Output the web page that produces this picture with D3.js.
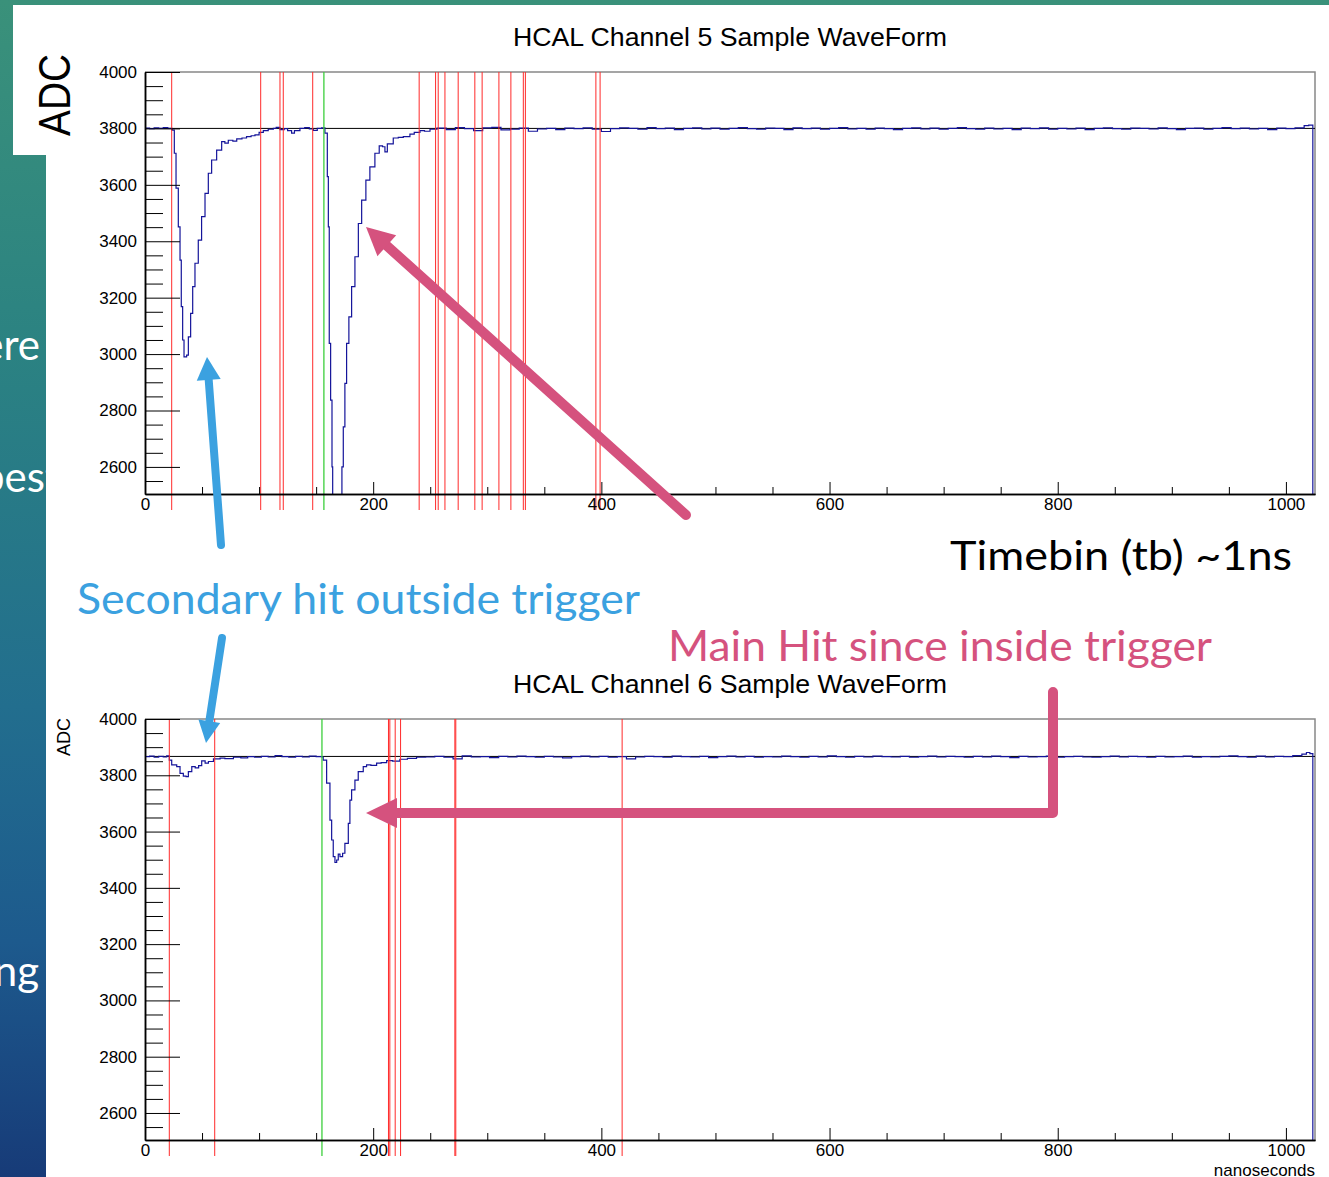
<!DOCTYPE html>
<html>
<head>
<meta charset="utf-8">
<script src="https://cdn.jsdelivr.net/npm/d3@7"></script>
<style>
  body { margin: 0; background: #fff; }
  svg { display: block; }
  .axis text { font-family: "Liberation Sans", Arial, sans-serif; font-size: 17px; fill: #000; }
  .axis line, .axis path { stroke: #000; }
</style>
</head>
<body>
<svg id="slide" width="1329" height="1177"></svg>
<script>
// ---- data ----
var yMajor = [2600, 2800, 3000, 3200, 3400, 3600, 3800, 4000];
var xMajor = [0, 200, 400, 600, 800, 1000];

// channel 5: pulse region as [ns, adc]
var ch5Head = [[0,3801],[4,3799],[8,3802],[12,3800],[16,3803],[20,3800],[23.7,3794],[25.7,3712],[27.2,3588],
  [29.2,3451],[30.7,3333],[31.8,3168],[33,3050],[34.2,2990],[36.5,2996],[38,3061],[40,3144],[41.8,3239],
  [43.8,3322],[46.7,3404],[49.6,3487],[52.6,3570],[55.5,3641],[58.4,3688],[62.8,3723],[67.2,3753],[70,3748],
  [73,3758],[77,3755],[80.4,3763],[85,3766],[89,3771],[93,3774],[96.4,3777],[100,3786],[103.7,3792],[108,3797],
  [112.5,3800],[115,3804],[118.3,3796],[122,3799],[125,3792],[128.5,3783],[131,3792],[135.8,3800],[140,3803],
  [144,3798],[147.5,3793],[151,3800],[154.8,3802],[157.7,3783],[159.8,3629],[160.7,3451],[161.5,3038],
  [162.7,2837],[163.9,2600],[164.5,2300],[172.6,2600],[173.8,2742],[175.2,2896],[176.7,3038],[178.7,3132],
  [181.1,3239],[184,3345],[187,3463],[189.9,3546],[193.6,3617],[197.1,3664],[201.5,3712],[205.3,3738],
  [208.2,3735],[210.3,3717],[212.4,3745],[217.6,3766],[222,3768],[226.4,3771],[232.2,3780],[236,3786],
  [241,3792],[245,3790],[249.8,3797]];
// channel 5: flat tail, one value every 8 ns from 256 ns
var ch5TailStart = 256;
var ch5Tail = [3801,3796,3803,3799,3792,3802,3804,3795,3797,3801,3790,3798,3800,3796,3801,3799,3802,3797,
  3789,3799,3802,3800,3797,3803,3799,3801,3796,3800,3802,3798,3801,3797,3800,3803,3799,3797,3801,3800,3796,
  3802,3799,3801,3797,3800,3803,3798,3800,3797,3801,3799,3796,3800,3802,3798,3801,3797,3800,3803,3799,3797,
  3801,3798,3800,3796,3801,3799,3802,3797,3800,3798,3801,3796,3800,3802,3799,3797,3801,3800,3798,3802,3799,
  3796,3800,3801,3797,3800,3803,3799,3801,3798,3800,3796,3801,3799,3802,3810];
var ch5End = [[1020,3812],[1023.6,0],[1026,0]];
var ch5Pedestal = 3800;
var ch5Red = [23.4, 101.4, 118.3, 121.2, 147, 240.3, 254.7, 257, 262.9, 274.5, 289.1, 295.5, 310.2,
  320.7, 331.6, 333.4, 395.2, 398.9];
var ch5Green = [156.8];

// channel 6
var ch6Head = [[0,3866],[4,3868],[8,3864],[12,3867],[16,3865],[19,3869],[21.3,3854],[23.4,3837],[27.8,3831],
  [30.7,3807],[33.6,3797],[36,3795],[38,3813],[41,3831],[44,3826],[47,3834],[49.7,3851],[52.7,3843],
  [55.6,3849],[60,3858],[65.8,3861],[70,3859],[77.5,3864],[84,3862],[90,3866],[96,3864],[102,3867],
  [108,3865],[114,3870],[120,3866],[126,3864],[132,3867],[138,3865],[144,3868],[150,3866],[155.1,3865],
  [156.2,3854],[159.2,3772],[162.1,3641],[163.6,3570],[165,3511],[166.5,3490],[168,3499],[169.4,3520],
  [170.9,3511],[173.2,3523],[175.2,3558],[178.2,3629],[179.6,3712],[181.1,3748],[184,3783],[186.9,3813],
  [191.3,3831],[194.2,3837],[198,3835],[203,3843],[207,3845],[211.8,3852],[217,3850],[223.4,3857],
  [230,3860],[238,3864]];
var ch6TailStart = 246;
var ch6Tail = [3865,3867,3864,3858,3869,3865,3866,3863,3867,3865,3868,3866,3864,3867,3865,3862,3866,3868,
  3865,3867,3864,3866,3858,3865,3867,3866,3864,3868,3866,3865,3867,3863,3866,3868,3865,3867,3864,3866,3865,
  3868,3866,3864,3867,3865,3869,3866,3864,3867,3865,3868,3866,3865,3867,3864,3866,3868,3865,3867,3866,3864,
  3867,3865,3868,3866,3863,3867,3865,3866,3868,3864,3866,3867,3865,3864,3866,3868,3865,3867,3866,3864,3867,
  3865,3866,3868,3864,3866,3865,3867,3869,3866,3864,3868,3865,3867,3866,3870,3875];
var ch6End = [[1018,3881],[1021,3877],[1023.6,0],[1026,0]];
var ch6Pedestal = 3867;
var ch6Red = [21.3, 61.1, 213.4, 214.6, 219.3, 224, 271.6, 272.4, 418.2];
var ch6Green = [155.1];

// ---- drawing ----
var svg = d3.select('#slide');
var W = 1329, H = 1177;

var defs = svg.append('defs');
var grad = defs.append('linearGradient').attr('id', 'bg').attr('x1', 0).attr('y1', 0).attr('x2', 0).attr('y2', 1);
[['0%', '#3a917a'], ['30%', '#2b8282'], ['60%', '#226e8e'], ['80%', '#1d5a8d'], ['100%', '#173b78']].forEach(function(s){
  grad.append('stop').attr('offset', s[0]).attr('stop-color', s[1]);
});
svg.append('rect').attr('width', W).attr('height', H).attr('fill', 'url(#bg)');

// slide bullet text peeking out on the left
var bullet = svg.append('g').attr('font-family', 'Lato, sans-serif').attr('font-size', 42).attr('fill', '#fff');
bullet.append('text').attr('x', 40).attr('y', 360).attr('text-anchor', 'end').text('where');
bullet.append('text').attr('x', 60).attr('y', 492).attr('text-anchor', 'end').text('best');
bullet.append('text').attr('x', 39).attr('y', 986).attr('text-anchor', 'end').text('timing');

// white image area
svg.append('rect').attr('x', 46).attr('y', 5).attr('width', W - 46).attr('height', H - 5).attr('fill', '#fff');
svg.append('rect').attr('x', 13).attr('y', 5).attr('width', 40).attr('height', 150).attr('fill', '#fff');

var x = d3.scaleLinear().domain([0, 1025.5]).range([145, 1315]);
var fmt = d3.format('d');

function panel(top, bottom, title, series, pedestal, reds, greens, id){
  var y = d3.scaleLinear().domain([2504, 4000]).range([bottom, top]);
  var g = svg.append('g');

  defs.append('clipPath').attr('id', id).append('rect')
    .attr('x', 145).attr('y', top).attr('width', 1170).attr('height', bottom - top);

  // frame
  g.append('path').attr('d', 'M145,' + top + 'H1315V' + bottom).attr('fill', 'none')
    .attr('stroke', '#888').attr('stroke-width', 1.5);

  // pedestal line and waveform
  var clip = g.append('g').attr('clip-path', 'url(#' + id + ')');
  clip.append('line').attr('x1', 145).attr('x2', 1315).attr('y1', y(pedestal)).attr('y2', y(pedestal))
    .attr('stroke', '#000').attr('stroke-width', 1);
  var line = d3.line().x(function(d){ return x(d[0]); }).y(function(d){ return y(d[1]); }).curve(d3.curveStepAfter);
  clip.append('path').datum(series).attr('d', line).attr('fill', 'none')
    .attr('stroke', '#14149a').attr('stroke-width', 1.2);

  // hit markers
  g.selectAll('.red').data(reds).enter().append('line')
    .attr('x1', function(d){ return x(d); }).attr('x2', function(d){ return x(d); })
    .attr('y1', top).attr('y2', bottom + 16).attr('stroke', '#ff2a2a').attr('stroke-width', 1);
  g.selectAll('.green').data(greens).enter().append('line')
    .attr('x1', function(d){ return x(d); }).attr('x2', function(d){ return x(d); })
    .attr('y1', top).attr('y2', bottom + 16).attr('stroke', '#3ccf3c').attr('stroke-width', 1.3);

  // y axis
  var yMinor = d3.range(2550, 4001, 50).filter(function(v){ return yMajor.indexOf(v) < 0; });
  g.append('g').attr('class', 'axis').attr('transform', 'translate(145,0)')
    .call(d3.axisLeft(y).tickValues(yMinor).tickSizeInner(-18).tickSizeOuter(0).tickFormat(''));
  g.append('g').attr('class', 'axis').attr('transform', 'translate(145,0)')
    .call(d3.axisLeft(y).tickValues(yMajor).tickSizeInner(-35).tickSizeOuter(0).tickPadding(8).tickFormat(fmt));

  // x axis
  var xMinor = d3.range(50, 1001, 50).filter(function(v){ return xMajor.indexOf(v) < 0; });
  g.append('g').attr('class', 'axis').attr('transform', 'translate(0,' + bottom + ')')
    .call(d3.axisBottom(x).tickValues(xMinor).tickSizeInner(-7).tickSizeOuter(0).tickFormat(''));
  g.append('g').attr('class', 'axis').attr('transform', 'translate(0,' + bottom + ')')
    .call(d3.axisBottom(x).tickValues(xMajor).tickSizeInner(-12).tickSizeOuter(0).tickPadding(4).tickFormat(fmt));
  g.selectAll('.axis path').attr('stroke-width', 1.5);

  g.append('text').attr('x', 730).attr('y', top - 26).attr('text-anchor', 'middle')
    .attr('font-family', '"Liberation Sans", Arial, sans-serif').attr('font-size', 26.7).text(title);
}

function build(head, start, tail, end){
  return head.concat(tail.map(function(v, i){ return [start + i * 8, v]; })).concat(end);
}

panel(72, 494, 'HCAL Channel 5 Sample WaveForm', build(ch5Head, ch5TailStart, ch5Tail, ch5End),
  ch5Pedestal, ch5Red, ch5Green, 'clip5');
panel(719, 1140, 'HCAL Channel 6 Sample WaveForm', build(ch6Head, ch6TailStart, ch6Tail, ch6End),
  ch6Pedestal, ch6Red, ch6Green, 'clip6');

// axis titles
svg.append('text').attr('transform', 'translate(70,95) rotate(-90)').attr('text-anchor', 'middle')
  .attr('font-family', '"Liberation Sans", Arial, sans-serif').attr('font-size', 44)
  .attr('textLength', 82).attr('lengthAdjust', 'spacingAndGlyphs').text('ADC');
svg.append('text').attr('transform', 'translate(70,737) rotate(-90)').attr('text-anchor', 'middle')
  .attr('font-family', '"Liberation Sans", Arial, sans-serif').attr('font-size', 18).text('ADC');
svg.append('text').attr('x', 1315).attr('y', 1176).attr('text-anchor', 'end')
  .attr('font-family', '"Liberation Sans", Arial, sans-serif').attr('font-size', 17).text('nanoseconds');

// annotations
function note(txt, xx, yy, len, color, size){
  svg.append('text').attr('x', xx).attr('y', yy).attr('font-family', 'Lato, sans-serif')
    .attr('font-size', size).attr('fill', color).attr('textLength', len)
    .attr('lengthAdjust', 'spacingAndGlyphs').text(txt);
}
note('Timebin (tb) ~1ns', 950, 570, 342, '#000', 40);
note('Secondary hit outside trigger', 77, 614, 563, '#3ba1e0', 42);
note('Main Hit since inside trigger', 668, 661, 544, '#d5527e', 42);

function arrow(pts, color, width, headLen, headHalf){
  var n = pts.length, tip = pts[n - 1], prev = pts[n - 2];
  var dx = tip[0] - prev[0], dy = tip[1] - prev[1], L = Math.sqrt(dx * dx + dy * dy);
  var ux = dx / L, uy = dy / L;
  var bx = tip[0] - ux * headLen, by = tip[1] - uy * headLen;
  var shaft = pts.slice(0, n - 1).concat([[bx + ux * 2, by + uy * 2]]);
  svg.append('path').attr('d', d3.line()(shaft)).attr('fill', 'none').attr('stroke', color)
    .attr('stroke-width', width).attr('stroke-linecap', 'round').attr('stroke-linejoin', 'round');
  svg.append('path').attr('d', d3.line()([tip, [bx - uy * headHalf, by + ux * headHalf], [bx + uy * headHalf, by - ux * headHalf]]) + 'Z')
    .attr('fill', color);
}
arrow([[221, 545], [207, 357]], '#3ba1e0', 8, 23, 12);
arrow([[222, 638], [206, 743]], '#3ba1e0', 8, 22, 11);
arrow([[686, 515], [366, 227]], '#d5527e', 10, 28, 14);
arrow([[1053, 692], [1053, 813], [366, 813]], '#d5527e', 10, 31, 15);
</script>
</body>
</html>
